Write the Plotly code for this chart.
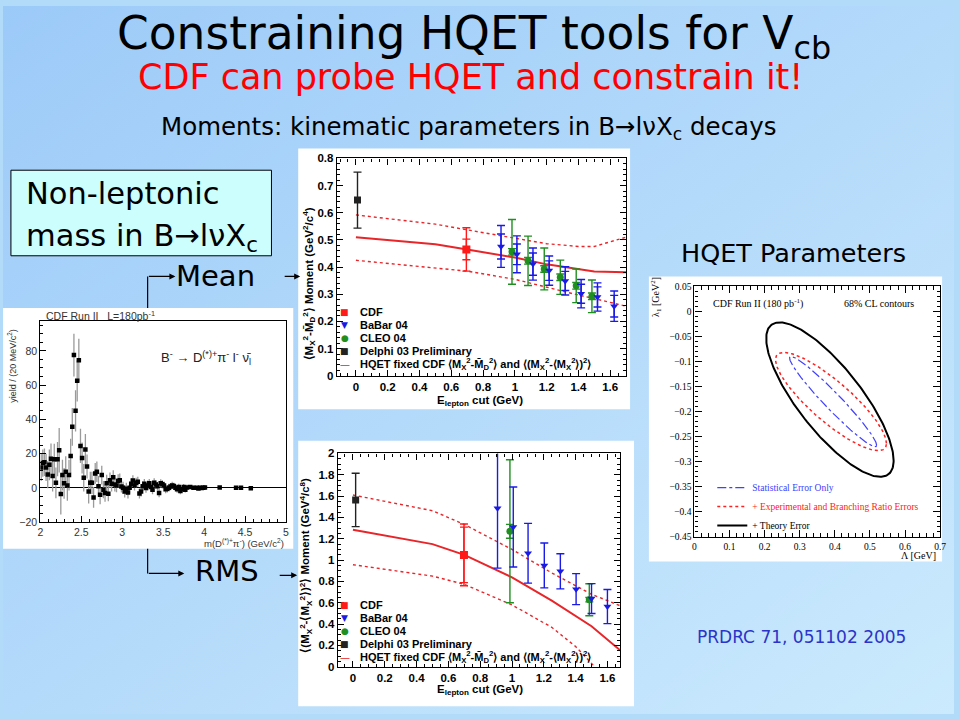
import base64
import numpy as np
import plotly.graph_objects as go

W, H = 960, 720

# ======================= DATA =======================
# Left panel: CDF yield vs m(D(*)+ pi-), 20 MeV bins starting at 2.01 GeV
mass_first_bin = 2.01
mass_bin_width = 0.02
mass_yield_dense = [12, 14.5, 15, 12, 7.8, 13.5, 17, 7, 16.8, 3,
                    16.8, 22, -3.5, 7.5, 2.7, 9.5, 1.5, 7.5, 18.7, 35.7,
                    77.5, 45, 62.5, 74.5, 24.5, 17.5, 6, 22.5, 12.5, -2,
                    3, 3, -5.5, 8.5, 9.5, 1, -4, 7.5, -1, -3,
                    2.7, -3.3, 4.5, 2.5, 6.3, 2, 1.5, 4, 4.5, 0.8,
                    0.2, -2, -0.4, -2.7, 0.2, 2.5, 4.4, 1.5, 3, 3.6,
                    -3.2, -2, 1, 2.5, 0, 1.5, 2.7, 0.6, -1, 3,
                    2, 1, -2.9, 2.7, 2.1, 1.5, -0.8, -0.4, 0.2, 0.8,
                    1.5, 1.1, 0.2, -0.8, 0.6, -1.7, -0.8, 0.5, -1, 0.3]
mass_err_dense = [8, 8, 8, 8, 8, 9, 9, 9, 9, 9,
                  10, 13, 12, 9, 9, 9, 9, 9, 10, 11,
                  12.5, 12, 12, 12.5, 10, 9, 8, 9, 7, 7,
                  6.5, 6.5, 6, 6, 6, 6, 5.5, 5.5, 5, 5,
                  5, 4.5, 4.5, 4.5, 4, 4, 4, 4, 4, 3.5,
                  3.5, 3.5, 3.5, 3.5, 3.5, 3, 3, 3, 3, 3,
                  3, 3, 2.8, 2.8, 2.8, 2.8, 2.6, 2.6, 2.6, 2.6,
                  2.5, 2.5, 2.5, 2.4, 2.4, 2.3, 2.3, 2.2, 2.2, 2.1,
                  2.1, 2, 2, 2, 1.9, 1.9, 1.8, 1.8, 1.7, 1.7]
mass_tail_x = [3.83, 3.87, 3.91, 3.93, 3.95, 3.97, 3.99, 4.01, 4.19, 4.39, 4.45, 4.57]
mass_tail_y = [0.6, 0.2, 0.1, -0.3, 0.2, 0.0, 0.1, 0.3, 0.3, 0.1, 0.1, -0.2]
mass_tail_err = [1.2, 1.1, 1.0, 1.0, 0.9, 0.9, 0.9, 0.8, 0.7, 0.6, 0.6, 0.6]

# Mean moment panel <M_X^2 - M_D^2>
mean_cdf_x, mean_cdf_y = [0.695], [0.465]
mean_cdf_stat, mean_cdf_tot = [0.038], [0.080]
mean_babar_x = [0.913, 1.013, 1.114, 1.216, 1.317, 1.417, 1.52, 1.625]
mean_babar_y = [0.476, 0.447, 0.411, 0.387, 0.349, 0.302, 0.290, 0.256]
mean_babar_stat = [0.046, 0.038, 0.041, 0.036, 0.035, 0.035, 0.037, 0.040]
mean_babar_tot = [0.077, 0.068, 0.059, 0.054, 0.052, 0.052, 0.052, 0.056]
mean_cleo_x = [0.982, 1.083, 1.185, 1.286, 1.386, 1.485]
mean_cleo_y = [0.456, 0.423, 0.393, 0.3625, 0.331, 0.2925]
mean_cleo_stat = [0.012, 0.012, 0.012, 0.012, 0.012, 0.012]
mean_cleo_tot = [0.119, 0.091, 0.077, 0.063, 0.062, 0.060]
mean_delphi_x, mean_delphi_y, mean_delphi_err = [0.01], [0.6465], [0.103]
mean_hqet_x = [0.0, 0.5, 0.7, 1.0, 1.2, 1.4, 1.5, 1.7]
mean_hqet_y = [0.510, 0.484, 0.465, 0.435, 0.410, 0.391, 0.384, 0.381]
mean_hqet_hi = [0.592, 0.558, 0.537, 0.508, 0.486, 0.476, 0.476, 0.510]
mean_hqet_lo = [0.425, 0.396, 0.385, 0.355, 0.325, 0.297, 0.284, 0.256]

# RMS moment panel <(M_X^2 - <M_X^2>)^2>
rms_cdf_x, rms_cdf_y = [0.698], [1.049]
rms_cdf_stat, rms_cdf_tot = [0.26], [0.29]
rms_babar_x = [0.909, 1.008, 1.101, 1.203, 1.304, 1.403, 1.50, 1.60]
rms_babar_y = [1.485, 1.31, 1.064, 0.95, 0.895, 0.728, 0.64, 0.565]
rms_babar_err = [0.56, 0.375, 0.28, 0.21, 0.165, 0.145, 0.14, 0.16]
rms_cleo_x = [0.987, 1.486]
rms_cleo_y = [1.27, 0.629]
rms_cleo_stat = [0.065, 0.02]
rms_cleo_tot = [0.67, 0.15]
rms_delphi_x, rms_delphi_y, rms_delphi_err = [0.017], [1.564], [0.25]
rms_hqet_x = [0.0, 0.5, 0.7, 1.0, 1.25, 1.5, 1.7]
rms_hqet_y = [1.285, 1.15, 1.049, 0.838, 0.62, 0.38, 0.13]
rms_hqet_hi = [1.61, 1.463, 1.334, 1.10, 0.88, 0.68, 0.56]
rms_hqet_lo_x = [0.0, 0.5, 0.7, 1.0, 1.25, 1.4, 1.52]
rms_hqet_lo = [0.957, 0.85, 0.773, 0.58, 0.37, 0.19, 0.0]

# HQET parameter 68% CL contours (centre, half-extents, correlation)
contour_names = ["Statistical Error Only",
                 "+ Experimental and Branching Ratio Errors",
                 "+ Theory Error"]
contour_cx = [0.395, 0.389, 0.386]
contour_cy = [-0.180, -0.180, -0.176]
contour_sx = [0.124, 0.158, 0.1815]
contour_sy = [0.090, 0.098, 0.154]
contour_rho = [-0.965, -0.85, -0.79]

legend_labels = ["CDF", "BaBar 04", "CLEO 04", "Delphi 03 Preliminary",
                 "HQET fixed CDF ⟨M<sub>X</sub><sup>2</sup>-M̄<sub>D</sub><sup>2</sup>⟩ and "
                 "⟨(M<sub>X</sub><sup>2</sup>-⟨M<sub>X</sub><sup>2</sup>⟩)<sup>2</sup>⟩"]

# ======================= STYLE =======================
RED, BLUE, GREEN = "#ff1a1a", "#1a1ae6", "#1f8f1f"
CURVE_RED = "#e8262a"
SLIDE_FONT = "DejaVu Sans"
ROOT_FONT = "Liberation Sans"
SERIF = "Liberation Serif"


def px(x):
    return x / W


def py(y):
    return 1 - y / H


fig = go.Figure()

# ---------- left plot ----------
mass_x = [round(mass_first_bin + mass_bin_width * i, 3) for i in range(len(mass_yield_dense))] + mass_tail_x
mass_y = mass_yield_dense + mass_tail_y
mass_err = mass_err_dense + mass_tail_err
fig.add_trace(go.Scatter(
    x=mass_x, y=mass_y, mode="markers", xaxis="x", yaxis="y",
    marker=dict(symbol="square", size=4.5, color="black"),
    error_y=dict(type="data", array=mass_err, color="#9a9a9a", thickness=1.3, width=0),
    showlegend=False, hoverinfo="skip"))


def add_curves(xa, ya, x, y, hi, lo, lo_x=None):
    fig.add_trace(go.Scatter(x=x, y=hi, mode="lines", xaxis=xa, yaxis=ya,
                             line=dict(color=CURVE_RED, width=1.4, dash="dot"),
                             showlegend=False, hoverinfo="skip"))
    fig.add_trace(go.Scatter(x=lo_x if lo_x is not None else x, y=lo, mode="lines", xaxis=xa, yaxis=ya,
                             line=dict(color=CURVE_RED, width=1.4, dash="dot"),
                             showlegend=False, hoverinfo="skip"))
    fig.add_trace(go.Scatter(x=x, y=y, mode="lines", xaxis=xa, yaxis=ya,
                             line=dict(color=CURVE_RED, width=2),
                             showlegend=False, hoverinfo="skip"))


def add_points(xa, ya, x, y, tot, stat, symbol, color, size):
    if stat is not None:
        fig.add_trace(go.Scatter(x=x, y=y, mode="markers", xaxis=xa, yaxis=ya,
                                 marker=dict(size=1, color="rgba(0,0,0,0)"),
                                 error_y=dict(type="data", array=stat, color=color, thickness=1.4, width=4),
                                 showlegend=False, hoverinfo="skip"))
    fig.add_trace(go.Scatter(x=x, y=y, mode="markers", xaxis=xa, yaxis=ya,
                             marker=dict(symbol=symbol, size=size, color=color),
                             error_y=dict(type="data", array=tot, color=color, thickness=1.4, width=4),
                             showlegend=False, hoverinfo="skip"))


# ---------- mean plot ----------
add_curves("x2", "y2", mean_hqet_x, mean_hqet_y, mean_hqet_hi, mean_hqet_lo)
add_points("x2", "y2", mean_delphi_x, mean_delphi_y, mean_delphi_err, None, "square", "#222222", 7)
add_points("x2", "y2", mean_cdf_x, mean_cdf_y, mean_cdf_tot, mean_cdf_stat, "square", RED, 8)
add_points("x2", "y2", mean_cleo_x, mean_cleo_y, mean_cleo_tot, mean_cleo_stat, "circle", GREEN, 7)
add_points("x2", "y2", mean_babar_x, mean_babar_y, mean_babar_tot, mean_babar_stat, "triangle-down", BLUE, 7)

# ---------- rms plot ----------
add_curves("x3", "y3", rms_hqet_x, rms_hqet_y, rms_hqet_hi, rms_hqet_lo, rms_hqet_lo_x)
add_points("x3", "y3", rms_delphi_x, rms_delphi_y, rms_delphi_err, None, "square", "#222222", 7)
add_points("x3", "y3", rms_cdf_x, rms_cdf_y, rms_cdf_tot, rms_cdf_stat, "square", RED, 8)
add_points("x3", "y3", rms_cleo_x, rms_cleo_y, rms_cleo_tot, rms_cleo_stat, "circle", GREEN, 7)
add_points("x3", "y3", rms_babar_x, rms_babar_y, rms_babar_err, None, "triangle-down", BLUE, 7)

# ---------- HQET parameter contours ----------
contour_styles = [dict(color="#4040ff", width=1.2, dash="dashdot"),
                  dict(color="#ff2020", width=1.5, dash="dot"),
                  dict(color="#000000", width=2.0)]
contour_text_colors = ["#4040ff", "#ff2020", "#000000"]
t = np.linspace(0, 2 * np.pi, 241)
for name, cx, cy, sx, sy, rho, st, tc in zip(contour_names, contour_cx, contour_cy, contour_sx,
                                             contour_sy, contour_rho, contour_styles, contour_text_colors):
    ex = cx + sx * np.cos(t)
    ey = cy + sy * (rho * np.cos(t) + np.sqrt(1 - rho ** 2) * np.sin(t))
    fig.add_trace(go.Scatter(x=ex, y=ey, mode="lines", xaxis="x4", yaxis="y4", line=st,
                             name=f"<span style='color:{tc}'>{name}</span>",
                             showlegend=True, hoverinfo="skip"))


# ======================= AXES =======================
def frame_axis(domain, rng, dtick, minor_dtick, anchor, font, mirror="ticks", ticklen=6, tick0=0):
    return dict(domain=domain, range=rng, dtick=dtick, tick0=tick0, ticks="inside",
                ticklen=ticklen, tickwidth=1, tickcolor="black",
                minor=dict(dtick=minor_dtick, ticks="inside", ticklen=ticklen * 0.5, tickcolor="black"),
                showline=True, linecolor="black", linewidth=1.2, mirror=mirror,
                showgrid=False, zeroline=False, tickfont=font, anchor=anchor, fixedrange=True)


root_bold = dict(family=ROOT_FONT, size=11.5, color="black", weight=700)
root_plain = dict(family=ROOT_FONT, size=10.5, color="#333333")
serif_small = dict(family=SERIF, size=9.5, color="black")

xa1 = frame_axis([px(37.7), px(285.7)], [2, 5], 0.5, 0.1, "y", root_plain, mirror=True)
ya1 = frame_axis([py(525), py(320)], [-20, 97.6], 20, 5, "x", root_plain, mirror=True)
ya1.update(zeroline=True, zerolinecolor="black", zerolinewidth=1)
xa2 = frame_axis([px(337), px(629)], [-0.12, 1.7], 0.2, 0.05, "y2", root_bold)
ya2 = frame_axis([py(376), py(155)], [0, 0.8], 0.1, 0.02, "x2", root_bold)
xa3 = frame_axis([px(338), px(623)], [-0.095, 1.68], 0.2, 0.05, "y3", root_bold)
ya3 = frame_axis([py(672), py(455)], [0, 2.0], 0.2, 0.05, "x3", root_bold)
xa4 = frame_axis([px(698), px(946)], [0, 0.7], 0.1, 0.02, "y4", serif_small, ticklen=7)
ya4 = frame_axis([py(540), py(285)], [-0.45, 0.05], 0.05, 0.01, "x4", serif_small, ticklen=7)

# ======================= SHAPES =======================
shapes = [
    dict(type="rect", xref="paper", yref="paper", x0=px(298), x1=px(633), y0=py(410), y1=py(145),
         fillcolor="white", line=dict(width=0), layer="below"),
    dict(type="rect", xref="paper", yref="paper", x0=px(298), x1=px(637), y0=py(712), y1=py(442),
         fillcolor="white", line=dict(width=0), layer="below"),
    dict(type="rect", xref="paper", yref="paper", x0=px(0), x1=px(293), y0=py(552), y1=py(307),
         fillcolor="white", line=dict(width=0), layer="below"),
    dict(type="rect", xref="paper", yref="paper", x0=px(652), x1=px(948), y0=py(565), y1=py(275),
         fillcolor="white", line=dict(width=0), layer="below"),
    dict(type="rect", xref="paper", yref="paper", x0=px(8), x1=px(271), y0=py(254), y1=py(167),
         fillcolor="#ccfefe", line=dict(color="black", width=1), layer="below"),
    dict(type="line", xref="paper", yref="paper", x0=px(146), x1=px(146), y0=py(307), y1=py(275),
         line=dict(color="black", width=1.2)),
    dict(type="line", xref="paper", yref="paper", x0=px(146), x1=px(146), y0=py(552), y1=py(577),
         line=dict(color="black", width=1.2)),
]

# ======================= ANNOTATIONS =======================
ann = []


def text(x, y, s, size, color="black", family=SLIDE_FONT, xanchor="center", yanchor="middle",
         angle=0, weight=None, align="center"):
    f = dict(family=family, size=size, color=color)
    if weight:
        f["weight"] = weight
    ann.append(dict(x=px(x), y=py(y), xref="paper", yref="paper", text=s, showarrow=False,
                    font=f, xanchor=xanchor, yanchor=yanchor, textangle=angle, align=align))


def arrow(x0, y0, x1, y1):
    ann.append(dict(x=px(x1), y=py(y1), xref="paper", yref="paper", ax=x0 - x1, ay=y0 - y1,
                    axref="pixel", ayref="pixel", text="", showarrow=True, arrowhead=2,
                    arrowsize=1, arrowwidth=1.2, arrowcolor="black", standoff=0))


# slide texts
text(475, 32, "Constraining HQET tools for V<sub>cb</sub>", 45.5)
text(472, 72, "CDF can probe HQET and constrain it!", 35, color="#ff0000")
text(470, 124, "Moments: kinematic parameters in B→lνX<sub>c</sub> decays", 24.5)
text(21, 191, "Non-leptonic", 30.5, xanchor="left")
text(21, 235, "mass in B→lνX<sub>c</sub>", 30.5, xanchor="left")
text(215, 275, "Mean", 29)
text(226, 575, "RMS", 29)
text(798, 251, "HQET Parameters", 25.5)
text(806, 642, "PRDRC 71, 051102 2005", 17, color="#2b34c8")
arrow(146, 275, 174, 275)
arrow(283, 275, 300, 275)
arrow(146, 577, 183, 577)
arrow(278, 579, 297, 579)

# left plot texts
text(41, 315, "CDF Run II   L=180pb<sup>-1</sup>", 10.5, family=ROOT_FONT, color="#333333", xanchor="left")
text(205, 358, "B<sup>-</sup> → D<sup>(*)+</sup>π<sup>-</sup> l<sup>-</sup> ν̄<sub>l</sub>", 13,
     family=ROOT_FONT, color="#222222")
text(9, 366, "yield / (20 MeV/c<sup>2</sup>)", 9, family=ROOT_FONT, color="#333333", angle=-90)
text(286, 546, "m(D<sup>(*)+</sup>π<sup>-</sup>) (GeV/c<sup>2</sup>)", 9.5, family=ROOT_FONT,
     color="#333333", xanchor="right")

# mean / rms axis titles
text(309, 283, "⟨M<sub>X</sub><sup>2</sup>-M̄<sub>D</sub><sup>2</sup>⟩ Moment (GeV<sup>2</sup>/c<sup>4</sup>)",
     11.5, family=ROOT_FONT, angle=-90, weight=700)
text(482, 402, "E<sub>lepton</sub> cut (GeV)", 11.5, family=ROOT_FONT, weight=700)
text(305, 569, "⟨(M<sub>X</sub><sup>2</sup>-⟨M<sub>X</sub><sup>2</sup>⟩)<sup>2</sup>⟩ Moment (GeV<sup>4</sup>/c<sup>8</sup>)",
     11.5, family=ROOT_FONT, angle=-90, weight=700)
text(482, 696, "E<sub>lepton</sub> cut (GeV)", 11.5, family=ROOT_FONT, weight=700)

# mean / rms legends
legend_symbols = ["■", "▼", "●", "■", "—"]
legend_colors = [RED, BLUE, GREEN, "#222222", CURVE_RED]
for y0 in (311.5, 609.5):
    for i, (lab, sym, col) in enumerate(zip(legend_labels, legend_symbols, legend_colors)):
        yy = y0 + i * 13.2
        text(345, yy, sym, 9 if sym != "—" else 10, color=col, family="DejaVu Sans")
        text(358, yy, lab, 11, family=ROOT_FONT, weight=700, xanchor="left")

# right plot texts
text(715, 303, "CDF Run II (180 pb<sup>-1</sup>)", 10, family=SERIF, xanchor="left")
text(922, 303, "68% CL contours", 10, family=SERIF, xanchor="right")
text(659, 296, "λ<sub>1</sub> [GeV<sup>2</sup>]", 10, family=SERIF, angle=-90)
text(944, 559, "Λ [GeV]", 10, family=SERIF, xanchor="right")

# ======================= BACKGROUND =======================
svg = ("<svg xmlns='http://www.w3.org/2000/svg' width='960' height='720'>"
       "<defs><linearGradient id='g' x1='0' y1='0' x2='1' y2='1'>"
       "<stop offset='0' stop-color='#9ccaf8'/><stop offset='1' stop-color='#cbeafd'/>"
       "</linearGradient></defs><rect width='960' height='720' fill='url(#g)'/></svg>")
bg_src = "data:image/svg+xml;base64," + base64.b64encode(svg.encode()).decode()

fig.update_layout(
    width=W, height=H, margin=dict(l=0, r=0, t=0, b=0, pad=0),
    paper_bgcolor="#b2daf9", plot_bgcolor="white",
    xaxis=xa1, yaxis=ya1, xaxis2=xa2, yaxis2=ya2, xaxis3=xa3, yaxis3=ya3, xaxis4=xa4, yaxis4=ya4,
    shapes=shapes, annotations=ann,
    images=[dict(source=bg_src, xref="paper", yref="paper", x=0, y=1, sizex=1, sizey=1,
                 sizing="stretch", xanchor="left", yanchor="top", layer="below")],
    legend=dict(x=px(716), y=py(475), xanchor="left", yanchor="top", bgcolor="rgba(0,0,0,0)",
                font=dict(family=SERIF, size=9.5), itemwidth=30, tracegroupgap=0),
    showlegend=True,
)

fig.write_html("out.html", config={"displayModeBar": False},
               post_script="document.body.style.margin='0';")
